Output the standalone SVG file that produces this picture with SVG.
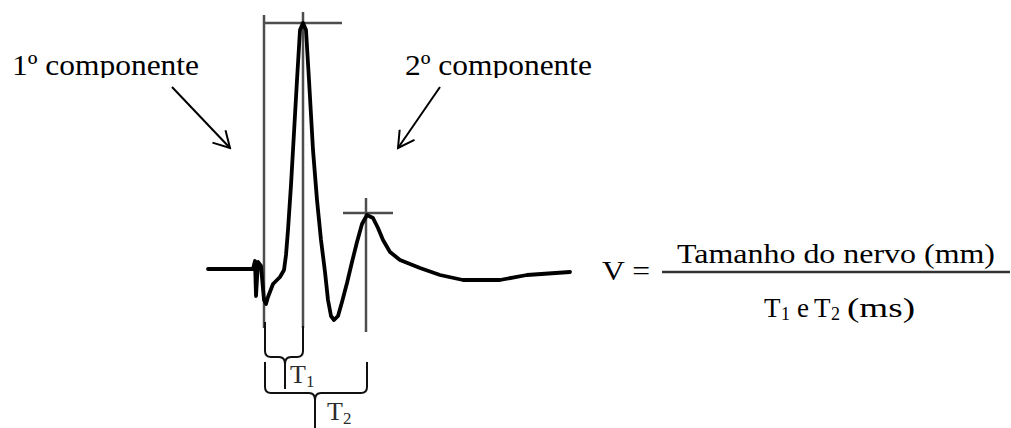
<svg xmlns="http://www.w3.org/2000/svg" width="1011" height="428" viewBox="0 0 1011 428">
<style>
.lbl{font-family:"Liberation Serif","Times New Roman",serif;fill:#000}
.guide{stroke:#4d4d4d;stroke-width:2.5;fill:none}
.wave{stroke:#000;stroke-width:3.8;fill:none;stroke-linejoin:round;stroke-linecap:round}
.brace{stroke:#111;stroke-width:2;fill:none}
.tlbl{font-family:"Liberation Serif","Times New Roman",serif;fill:#2b2b2b;font-size:26px}
.arrow{stroke:#000;stroke-width:2;fill:none;marker-end:url(#open)}
</style>
<defs>
<marker id="open" viewBox="0 0 20 20" refX="18" refY="10" markerWidth="20" markerHeight="20" markerUnits="userSpaceOnUse" orient="auto">
<path d="M2,1 L18,10 L2,19" fill="none" stroke="#000" stroke-width="2"/>
</marker>
<clipPath id="cut"><rect x="0" y="0" width="1011" height="78"/></clipPath>
</defs>
<rect width="1011" height="428" fill="#fff"/>
<g id="label1" clip-path="url(#cut)">
<text class="lbl" x="12" y="75" font-size="30" textLength="187" lengthAdjust="spacingAndGlyphs">1º componente</text>
</g>
<g id="label2" clip-path="url(#cut)">
<text class="lbl" x="405" y="75" font-size="30" textLength="187" lengthAdjust="spacingAndGlyphs">2º componente</text>
</g>
<g id="guides">
<line class="guide" x1="264" y1="15" x2="264" y2="328"/>
<line class="guide" x1="264" y1="23" x2="342" y2="23"/>
<line class="guide" x1="303" y1="12" x2="303" y2="328"/>
<line class="guide" x1="366" y1="198" x2="366" y2="332"/>
<line class="guide" x1="343" y1="213" x2="393" y2="213"/>
</g>
<g id="waveform">
<path class="wave" d="M208,269 L253,269 L255,261 L256,296 L258,262 L261,266 L264,300 L266,304 L268,297 L273,284 L280,277 L284,270 L286,255 L288,230 L291,185 L293,150 L297,80 L300,30 L303,23 L306,30 L309,80 L313,150 L317,200 L321,240 L325,272 L328,300 L331,316 L334,320 L338,316 L342,302 L347,283 L352,262 L357,242 L362,224 L367,215 L373,218 L378,228 L383,240 L390,252 L400,260 L420,268 L440,275 L463,280 L500,280 L527,275 L570,272"/>
</g>
<g id="brace-t1">
<path class="brace" d="M265,322 V351 Q265,357 271,357 H279 Q285,357 285,364 V389 M285,364 Q285,357 291,357 H297 Q303,357 303,351 V326"/>
<text class="tlbl" x="290" y="383">T<tspan font-size="17" dy="4">1</tspan></text>
</g>
<g id="brace-t2">
<path class="brace" d="M265,362 V387 Q265,393 271,393 H309 Q315,393 315,400 V428 M315,400 Q315,393 321,393 H361 Q367,393 367,387 V362"/>
<text class="tlbl" x="327" y="420">T<tspan font-size="17" dy="4">2</tspan></text>
</g>
<g id="connectors">
<line class="arrow" x1="172" y1="87" x2="230" y2="148"/>
<line class="arrow" x1="440" y1="87" x2="398" y2="148"/>
</g>
<g id="formula">
<text class="lbl" x="602" y="280" font-size="27" textLength="48" lengthAdjust="spacingAndGlyphs">V =</text>
<text class="lbl" x="677" y="263" font-size="27" textLength="318" lengthAdjust="spacingAndGlyphs">Tamanho do nervo (mm)</text>
<line x1="662" y1="272" x2="1010" y2="272" stroke="#333" stroke-width="2.5"/>
<text class="lbl" font-size="27" y="317"><tspan x="764">T</tspan><tspan x="781" font-size="18" dy="3">1</tspan><tspan x="797" dy="-3">e</tspan><tspan x="814">T</tspan><tspan x="831" font-size="18" dy="3">2</tspan></text>
<text class="lbl" font-size="27" x="847" y="317" textLength="68" lengthAdjust="spacingAndGlyphs">(ms)</text>
</g>
</svg>
